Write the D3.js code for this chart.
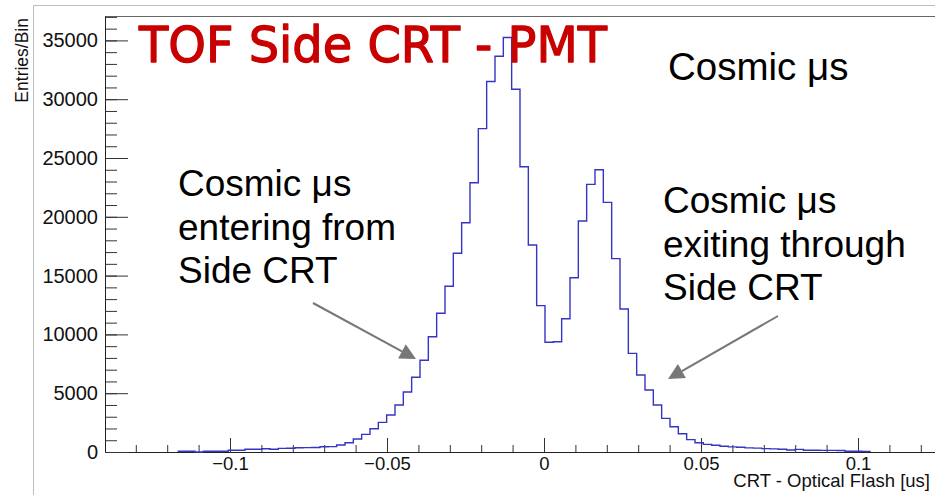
<!DOCTYPE html>
<html>
<head>
<meta charset="utf-8">
<script src="https://cdn.jsdelivr.net/npm/d3@7"></script>
<style>
  body { margin: 0; background: #fff; }
  svg { display: block; }
</style>
</head>
<body>
<div id="tof"></div>
<script>
// histogram: first bin edge and width [us], one count per bin
var binLow = -0.11646,
    binWidth = 0.002654;
var counts = [
    60, 60, 0, 60, 60, 70, 145, 150, 230, 230,
    280, 240, 310, 320, 360, 370, 380, 450, 460, 600,
    790, 1100, 1500, 1980, 2520, 3150, 4000, 5100, 6350, 7800,
    9800, 11800, 14100, 16900, 19500, 22900, 27500, 31500, 33650, 35250,
    30850, 24250, 17600, 12450, 9330, 9380, 11330, 14820, 19640, 22760,
    24000, 21230, 16440, 12160, 8390, 6550, 5270, 4000, 2860, 2150,
    1550, 1050, 790, 650, 570, 490, 440, 400, 350, 330,
    290, 270, 230, 170, 220, 150, 145, 140, 140, 130,
    60, 60, 55
];

// axis ticks
var xTickValues = [-0.1, -0.05, 0, 0.05, 0.1];
var xTickLabels = ["\u22120.1", "\u22120.05", "0", "0.05", "0.1"];
var yTickValues = [0, 5000, 10000, 15000, 20000, 25000, 30000, 35000];

// annotations
var titleText = "TOF Side CRT - PMT";
var topRightText = "Cosmic \u03bcs";
var leftNote = ["Cosmic \u03bcs", "entering from", "Side CRT"];
var rightNote = ["Cosmic \u03bcs", "exiting through", "Side CRT"];

var W = 935, H = 495;
var frame = {left: 105, top: 16, bottom: 452, right: 940};
var labelFont = "'Liberation Sans', Arial, Helvetica, sans-serif";

var svg = d3.select("#tof")
    .append("svg")
    .attr("width", W)
    .attr("height", H)
    .style("font-family", labelFont);

svg.append("rect").attr("width", W).attr("height", H).attr("fill", "#fff");

// canvas / pad border lines
svg.append("line").attr("x1", 33.5).attr("x2", 33.5).attr("y1", 5.5).attr("y2", H)
    .attr("stroke", "#bdbdbd");
svg.append("line").attr("x1", 33.5).attr("x2", W).attr("y1", 5.5).attr("y2", 5.5)
    .attr("stroke", "#bdbdbd");

var x = d3.scaleLinear()
    .domain([(frame.left - 544) / 3140, (frame.right - 544) / 3140])
    .range([frame.left, frame.right]);

var y = d3.scaleLinear()
    .domain([0, 37075])
    .range([frame.bottom, frame.top]);

// frame top
svg.append("line")
    .attr("x1", frame.left).attr("x2", W)
    .attr("y1", frame.top + 0.5).attr("y2", frame.top + 0.5)
    .attr("stroke", "#666");

// minor ticks
svg.append("g")
    .attr("transform", "translate(0," + frame.bottom + ")")
    .call(d3.axisBottom(x).tickValues(d3.range(-13, 13).map(function(i) { return i / 100; }))
        .tickSize(-7).tickSizeOuter(0).tickFormat(""))
    .call(function(g) { g.select(".domain").remove(); });

svg.append("g")
    .attr("transform", "translate(" + frame.left + ",0)")
    .call(d3.axisLeft(y).tickValues(d3.range(0, 37001, 1000))
        .tickSize(-12).tickSizeOuter(0).tickFormat(""))
    .call(function(g) { g.select(".domain").remove(); });

// major x axis
var xAxis = svg.append("g")
    .attr("transform", "translate(0," + frame.bottom + ")")
    .call(d3.axisBottom(x).tickValues(xTickValues)
        .tickSize(-14).tickSizeOuter(0).tickPadding(5)
        .tickFormat(function(d, i) { return xTickLabels[i]; }))
    .attr("font-size", 18.5)
    .attr("font-family", labelFont);

// major y axis
var yAxis = svg.append("g")
    .attr("transform", "translate(" + frame.left + ",0)")
    .call(d3.axisLeft(y).tickValues(yTickValues)
        .tickSize(-23).tickSizeOuter(0).tickPadding(7)
        .tickFormat(d3.format("d")))
    .attr("font-size", 20)
    .attr("font-family", labelFont);

svg.selectAll(".tick line").attr("stroke", "#333");
svg.selectAll(".domain").attr("stroke", "#222");
svg.selectAll(".tick text").attr("fill", "#111");

// axis titles
svg.append("text")
    .attr("transform", "translate(28,18) rotate(-90)")
    .style("text-anchor", "end")
    .style("font-size", "17.5px")
    .attr("fill", "#111")
    .text("Entries/Bin");

svg.append("text")
    .attr("x", 930)
    .attr("y", 487)
    .style("text-anchor", "end")
    .style("font-size", "18.5px")
    .attr("fill", "#111")
    .text("CRT - Optical Flash [us]");

// histogram as steps
var pts = counts.map(function(c, i) { return [binLow + i * binWidth, c]; });
pts.unshift([binLow, 0]);
pts.push([binLow + counts.length * binWidth, 0]);

svg.append("path")
    .datum(pts)
    .attr("fill", "none")
    .attr("stroke", "#3535c4")
    .attr("stroke-width", 1.4)
    .attr("d", d3.line()
        .curve(d3.curveStepAfter)
        .x(function(d) { return x(d[0]); })
        .y(function(d) { return y(d[1]); })
    );

// title
svg.append("text")
    .attr("x", 139)
    .attr("y", 62)
    .attr("textLength", 468)
    .attr("lengthAdjust", "spacingAndGlyphs")
    .style("font-family", "'DejaVu Sans', sans-serif")
    .style("font-size", "50px")
    .attr("fill", "#c80000")
    .attr("stroke", "#c80000")
    .attr("stroke-width", 1.3)
    .attr("stroke-linejoin", "round")
    .text(titleText);

svg.append("text")
    .attr("x", 668)
    .attr("y", 80)
    .style("font-size", "38.5px")
    .attr("fill", "#000")
    .text(topRightText);

function note(lines, x0, y0) {
    svg.append("g").selectAll("text")
        .data(lines)
        .join("text")
        .attr("x", x0)
        .attr("y", function(d, i) { return y0 + i * 43.5; })
        .style("font-size", "37px")
        .attr("fill", "#000")
        .text(function(d) { return d; });
}
note(leftNote, 178, 196);
note(rightNote, 663, 213);

// arrows
function arrow(x1, y1, x2, y2) {
    var a = Math.atan2(y2 - y1, x2 - x1), len = 16, hw = 8;
    var bx = x2 - len * Math.cos(a), by = y2 - len * Math.sin(a);
    svg.append("line")
        .attr("x1", x1).attr("y1", y1).attr("x2", bx).attr("y2", by)
        .attr("stroke", "#777").attr("stroke-width", 2);
    svg.append("path")
        .attr("d", "M" + x2 + "," + y2 +
            "L" + (bx + hw * Math.sin(a)) + "," + (by - hw * Math.cos(a)) +
            "L" + (bx - hw * Math.sin(a)) + "," + (by + hw * Math.cos(a)) + "Z")
        .attr("fill", "#777");
}
arrow(313, 303, 416, 359);
arrow(778, 316, 668, 379);
</script>
</body>
</html>
